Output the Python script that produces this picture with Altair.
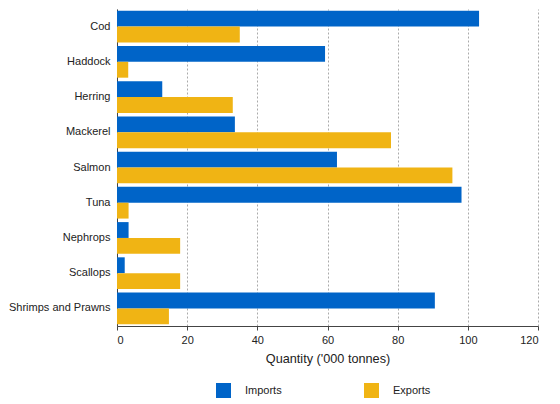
import altair as alt
import pandas as pd

categories = ["Cod", "Haddock", "Herring", "Mackerel", "Salmon", "Tuna",
              "Nephrops", "Scallops", "Shrimps and Prawns"]
imports = [103.2, 59.3, 12.9, 33.6, 62.7, 98.2, 3.3, 2.2, 90.6]
exports = [35.0, 3.2, 33.0, 78.1, 95.6, 3.3, 18.0, 18.0, 14.8]
series = ["Imports", "Exports"]
colors = ["#0064C8", "#F0B414"]
x_ticks = [0, 20, 40, 60, 80, 100, 120]

rows = []
for c, i, e in zip(categories, imports, exports):
    rows.append({"Species": c, "Flow": "Imports", "Value": i})
    rows.append({"Species": c, "Flow": "Exports", "Value": e})
df = pd.DataFrame(rows)

FONT = "Liberation Sans"

chart = alt.Chart(df).mark_bar().encode(
    y=alt.Y("Species:N", sort=categories, title=None,
            scale=alt.Scale(paddingInner=0.1, paddingOuter=0.05),
            axis=alt.Axis(ticks=False, labelPadding=7, domainColor="#444",
                          labelFontSize=11, labelColor="#222", labelFont=FONT,
                          labelLimit=200)),
    yOffset=alt.YOffset("Flow:N", sort=series, scale=alt.Scale(paddingInner=0)),
    x=alt.X("Value:Q", title="Quantity ('000 tonnes)",
            scale=alt.Scale(domain=[0, 120], nice=False),
            axis=alt.Axis(values=x_ticks, grid=True, gridDash=[2, 2],
                          gridColor="#aaaaaa", domainColor="#444",
                          tickColor="#444", tickSize=4, labelPadding=4,
                          labelFontSize=11, labelColor="#222", labelFont=FONT,
                          titleFont=FONT, titleFontSize=12.7, titleFontWeight="normal",
                          titleColor="#222", titlePadding=7)),
    color=alt.Color("Flow:N", sort=series,
                    scale=alt.Scale(domain=series, range=colors),
                    legend=alt.Legend(title=None, orient="none", direction="horizontal",
                                      legendX=99, legendY=374,
                                      symbolType="square", symbolSize=225,
                                      symbolStrokeWidth=0, symbolOpacity=1,
                                      labelOffset=14, columnPadding=82,
                                      labelFontSize=11, labelColor="#222",
                                      labelFont=FONT)),
).properties(
    width=421, height=317,
    padding={"left": 0, "top": 1, "right": 5, "bottom": 5},
).configure_view(stroke=None)

chart.save("out.html", embed_options={"renderer": "svg", "actions": False})
